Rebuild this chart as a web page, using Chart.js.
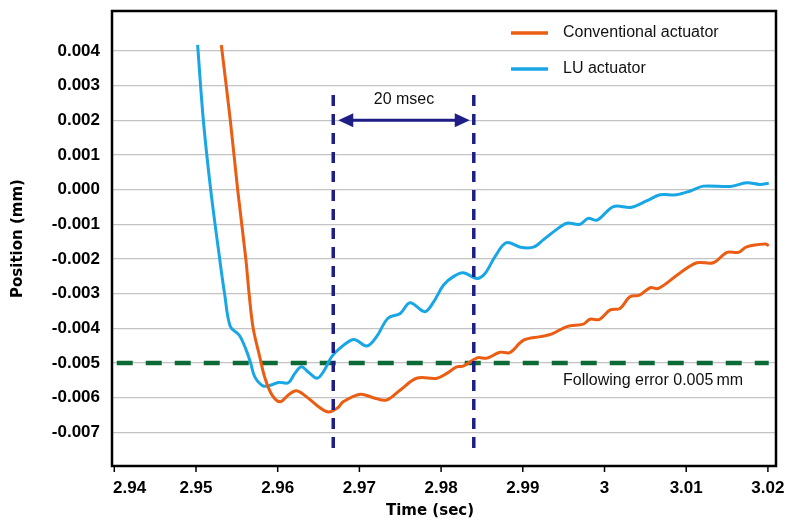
<!DOCTYPE html>
<html>
<head>
<meta charset="utf-8">
<script src="https://cdn.jsdelivr.net/npm/chart.js@4.4.1/dist/chart.umd.min.js"></script>
<style>
  html, body { margin: 0; padding: 0; background: #fff; }
</style>
</head>
<body>
<canvas id="chart" width="785" height="522"></canvas>
<script>
// LU actuator trace (time in sec, position in mm)
const luTime = [2.9502, 2.9509, 2.9518, 2.9529, 2.9535, 2.9542, 2.9553,
  2.9561, 2.9567, 2.9572, 2.9582, 2.9591, 2.9601, 2.9613, 2.9621, 2.9629, 2.9637,
  2.9648, 2.9656, 2.9666, 2.9676, 2.9693, 2.9709, 2.9721, 2.9735, 2.9750, 2.9762,
  2.9780, 2.9791, 2.9803, 2.9815, 2.9827, 2.9844, 2.9854, 2.9866, 2.9880, 2.9897,
  2.9913, 2.9925, 2.9942, 2.9954, 2.9970, 2.9980, 2.9991, 3.0011, 3.0033, 3.0052,
  3.0068, 3.0088, 3.0105, 3.0121, 3.0154, 3.0174, 3.0190, 3.0201];
const luPos = [0.00417, 0.0020, 0.0000, -0.0020, -0.0030, -0.00395, -0.0042,
  -0.0046, -0.00501, -0.0054, -0.00566, -0.00564, -0.00556, -0.00557, -0.0053, -0.00511, -0.00525,
  -0.00544, -0.00525, -0.00482, -0.00458, -0.00432, -0.00451, -0.00424, -0.00371, -0.00357, -0.00326,
  -0.00352, -0.00323, -0.00275, -0.00251, -0.0024, -0.00256, -0.00241, -0.00193, -0.00153, -0.00166,
  -0.00166, -0.00145, -0.00114, -0.00097, -0.0010, -0.00083, -0.00088, -0.00049, -0.00051, -0.00032,
  -0.00015, -0.00015, -0.00004, 0.0001, 0.00009, 0.0002, 0.00015, 0.00018];

// Conventional actuator trace
const convTime = [2.9531, 2.9542, 2.9551, 2.9561, 2.9565, 2.9570, 2.9578,
  2.9584, 2.9593, 2.9603, 2.9613, 2.9623, 2.9635, 2.9650, 2.9662, 2.9674, 2.9680,
  2.9701, 2.9717, 2.9733, 2.9750, 2.9770, 2.9795, 2.9807, 2.9819, 2.9827, 2.9844,
  2.9856, 2.9872, 2.9884, 2.9901, 2.9921, 2.9935, 2.9954, 2.9974, 2.9982, 2.9994,
  3.0007, 3.0019, 3.0031, 3.0043, 3.0056, 3.0066, 3.0092, 3.0113, 3.0133, 3.0150,
  3.0164, 3.0174, 3.0197, 3.0201];
const convPos = [0.00417, 0.0020, 0.0000, -0.0020, -0.0030, -0.0040, -0.00482,
  -0.0054, -0.00592, -0.00612, -0.00592, -0.0058, -0.00597, -0.00626, -0.00641, -0.00628, -0.00612,
  -0.0059, -0.0060, -0.00607, -0.00578, -0.00544, -0.00544, -0.0053, -0.00511, -0.00509, -0.00485,
  -0.00486, -0.00469, -0.0047, -0.00434, -0.00424, -0.00417, -0.00395, -0.00388, -0.00374, -0.00374,
  -0.00347, -0.00343, -0.00309, -0.00304, -0.00283, -0.00285, -0.00241, -0.00211, -0.00211, -0.00181,
  -0.00181, -0.00165, -0.00157, -0.00162];

// axes
const xTicks = [2.94, 2.95, 2.96, 2.97, 2.98, 2.99, 3.00, 3.01, 3.02];
const xTickLabels = ['2.94', '2.95', '2.96', '2.97', '2.98', '2.99', '3', '3.01', '3.02'];
const yTicks = [0.004, 0.003, 0.002, 0.001, 0.000, -0.001, -0.002, -0.003, -0.004, -0.005, -0.006, -0.007];

// annotations
const errorLimit = -0.005;
const errorSpan = [2.9403, 3.0201];
const markerTimes = [2.9668, 2.9840];
const markerRange = [0.00273, -0.00757];
const arrowLevel = 0.002;

const ORANGE = '#ea5d12';
const BLUE = '#19a6e4';
const NAVY = '#1e1e86';
const GREEN = '#0c6a36';
const SANS = '"Liberation Sans", Arial, sans-serif';

const toPoints = (xs, ys) => xs.map((x, i) => ({x: x, y: ys[i]}));

const markerSets = markerTimes.map(t => ({
  data: [{x: t, y: markerRange[0]}, {x: t, y: markerRange[1]}],
  borderColor: NAVY,
  borderWidth: 3.5,
  borderDash: [11, 8],
  pointRadius: 0,
  order: 0
}));

const overlay = {
  id: 'overlay',
  afterDatasetsDraw(chart) {
    const {ctx, scales: {x, y}} = chart;
    const ay = y.getPixelForValue(arrowLevel);
    const x1 = x.getPixelForValue(markerTimes[0]) + 5;
    const x2 = x.getPixelForValue(markerTimes[1]) - 4;
    ctx.save();
    ctx.strokeStyle = NAVY;
    ctx.fillStyle = NAVY;
    ctx.lineWidth = 3;
    ctx.beginPath();
    ctx.moveTo(x1 + 10, ay);
    ctx.lineTo(x2 - 10, ay);
    ctx.stroke();
    ctx.beginPath();
    ctx.moveTo(x1, ay);
    ctx.lineTo(x1 + 15, ay - 7);
    ctx.lineTo(x1 + 15, ay + 7);
    ctx.closePath();
    ctx.fill();
    ctx.beginPath();
    ctx.moveTo(x2, ay);
    ctx.lineTo(x2 - 15, ay - 7);
    ctx.lineTo(x2 - 15, ay + 7);
    ctx.closePath();
    ctx.fill();

    ctx.fillStyle = '#111';
    ctx.font = '16px ' + SANS;
    ctx.textAlign = 'center';
    ctx.textBaseline = 'middle';
    ctx.fillText('20 msec', (x1 + x2) / 2, ay - 21);

    ctx.textAlign = 'left';
    ctx.fillText('Following error 0.005\u2009mm', 563, y.getPixelForValue(errorLimit) + 18);
    ctx.restore();
  },
  afterDraw(chart) {
    const {ctx, chartArea: a, scales: {x}} = chart;
    ctx.save();
    // frame
    ctx.strokeStyle = '#000';
    ctx.lineWidth = 2.5;
    ctx.strokeRect(a.left, a.top, a.right - a.left, a.bottom - a.top);

    // x ticks and labels
    ctx.lineWidth = 1.5;
    ctx.fillStyle = '#000';
    ctx.font = 'bold 17px ' + SANS;
    ctx.textBaseline = 'middle';
    ctx.textAlign = 'left';
    xTicks.forEach((v, i) => {
      const px = x.getPixelForValue(v);
      ctx.beginPath();
      ctx.moveTo(px, a.bottom);
      ctx.lineTo(px, a.bottom + 6);
      ctx.stroke();
      const w = ctx.measureText(xTickLabels[i]).width;
      const left = Math.max(px - w / 2, a.left + 1);
      ctx.fillText(xTickLabels[i], left, a.bottom + 22);
    });

    // axis titles
    ctx.font = 'bold 15px "DejaVu Sans", Verdana, sans-serif';
    ctx.textAlign = 'center';
    ctx.fillText('Time (sec)', 430, 511);
    ctx.save();
    ctx.translate(18, (a.top + a.bottom) / 2);
    ctx.rotate(-Math.PI / 2);
    ctx.fillText('Position (mm)', 0, 0);
    ctx.restore();

    // legend
    const items = [['Conventional actuator', ORANGE, 33], ['LU actuator', BLUE, 69]];
    ctx.font = '16px ' + SANS;
    ctx.textAlign = 'left';
    items.forEach(([label, color, ly]) => {
      ctx.strokeStyle = color;
      ctx.lineWidth = 3.5;
      ctx.beginPath();
      ctx.moveTo(511, ly);
      ctx.lineTo(548, ly);
      ctx.stroke();
      ctx.fillStyle = '#111';
      ctx.fillText(label, 563, ly);
    });
    ctx.restore();
  }
};

new Chart(document.getElementById('chart'), {
  type: 'line',
  data: {
    datasets: [
      ...markerSets,
      {
        label: 'Conventional actuator',
        data: toPoints(convTime, convPos),
        borderColor: ORANGE,
        borderWidth: 3,
        pointRadius: 0,
        tension: 0.35,
        order: 1
      },
      {
        label: 'LU actuator',
        data: toPoints(luTime, luPos),
        borderColor: BLUE,
        borderWidth: 3,
        pointRadius: 0,
        tension: 0.35,
        order: 2
      },
      {
        data: errorSpan.map(t => ({x: t, y: errorLimit})),
        borderColor: GREEN,
        borderWidth: 4.5,
        borderDash: [16, 13],
        pointRadius: 0,
        order: 3
      }
    ]
  },
  options: {
    responsive: false,
    animation: false,
    layout: {padding: {top: 11, right: 9, left: 0, bottom: 0}},
    plugins: {legend: {display: false}, tooltip: {enabled: false}},
    scales: {
      x: {
        type: 'linear',
        min: 2.93972,
        max: 3.02099,
        grid: {display: false},
        border: {display: false},
        ticks: {display: false},
        afterBuildTicks: s => { s.ticks = xTicks.map(v => ({value: v})); },
        afterFit: s => { s.height = 56; s.paddingLeft = 0; s.paddingRight = 0; }
      },
      y: {
        min: -0.00797,
        max: 0.00515,
        grid: {color: '#c3c3c3', lineWidth: 1.3, drawTicks: false},
        border: {display: false},
        ticks: {
          color: '#000',
          padding: 12,
          font: {family: SANS, size: 17, weight: 'bold'},
          callback: v => v.toFixed(3)
        },
        afterBuildTicks: s => { s.ticks = yTicks.map(v => ({value: v})); },
        afterFit: s => { s.width = 112; s.paddingTop = 0; s.paddingBottom = 0; }
      }
    }
  },
  plugins: [overlay]
});
</script>
</body>
</html>
